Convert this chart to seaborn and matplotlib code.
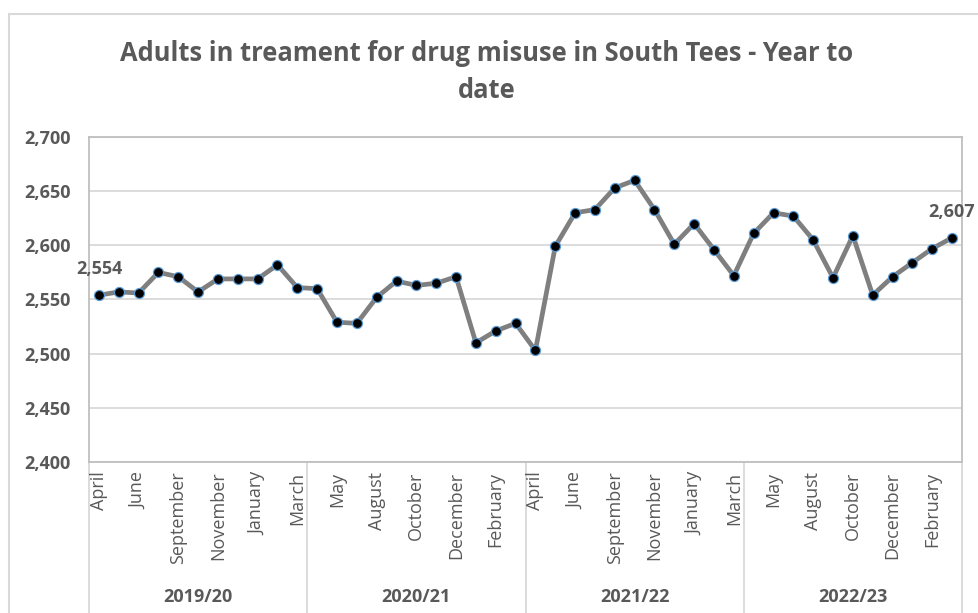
import pandas as pd
import seaborn as sns
import matplotlib.pyplot as plt
from matplotlib.patches import Rectangle

# Financial years and the months shown in each (July is not in the series)
years = ['2019/20', '2020/21', '2021/22', '2022/23']
months = ['April', 'May', 'June', 'August', 'September', 'October',
          'November', 'December', 'January', 'February', 'March']

adults_2019 = [2554, 2557, 2556, 2575, 2571, 2557, 2569, 2569, 2569, 2582, 2561]
adults_2020 = [2560, 2529, 2528, 2552, 2567, 2563, 2565, 2571, 2510, 2521, 2528]
adults_2021 = [2503, 2599, 2630, 2633, 2653, 2660, 2633, 2601, 2620, 2596, 2572]
adults_2022 = [2611, 2630, 2627, 2605, 2570, 2609, 2554, 2571, 2584, 2597, 2607]

yticks = [2400, 2450, 2500, 2550, 2600, 2650, 2700]

values = adults_2019 + adults_2020 + adults_2021 + adults_2022
df = pd.DataFrame({
    'year': [y for y in years for _ in months],
    'month': months * len(years),
    'adults': values,
})
df['pos'] = range(len(df))

sns.set_theme(style='white')
plt.rcParams['font.family'] = ['Open Sans', 'DejaVu Sans']
txt = '#595959'

W, H = 979, 613
fig = plt.figure(figsize=(W / 100, H / 100), dpi=100)
# outer chart border
fig.patches.append(Rectangle((9 / W, -0.1), 1.2, 1 - 14 / H + 0.1, transform=fig.transFigure,
                             fill=False, edgecolor='#d9d9d9', linewidth=1.5, zorder=0))

left, right, top, bottom = 89, 962, 137, 462
ax = fig.add_axes([left / W, 1 - bottom / H, (right - left) / W, (bottom - top) / H])

sns.lineplot(data=df, x='pos', y='adults', ax=ax, color='#7f7f7f', linewidth=3.4,
             marker='o', markersize=7.2, markerfacecolor='black',
             markeredgecolor='#5b9bd5', markeredgewidth=0.9, zorder=3)

ax.set_xlim(-0.5, len(df) - 0.5)
ax.set_ylim(yticks[0], yticks[-1])
ax.set_yticks(yticks)
ax.set_yticklabels([f'{v:,}' for v in yticks], fontsize=13, fontweight='bold', color=txt)
ax.tick_params(axis='y', length=0, pad=13)
ax.set_xticks([])
ax.set_xlabel('')
ax.set_ylabel('')
ax.grid(axis='y', color='#d9d9d9', linewidth=1.3)
for s in ax.spines.values():
    s.set_color('#bfbfbf')
    s.set_linewidth(1.3)

# data labels on first and last points
for i in [0, len(df) - 1]:
    ax.annotate(f"{df['adults'][i]:,}", (df['pos'][i], df['adults'][i]),
                xytext=(0, 12), textcoords='offset points', ha='center', va='bottom',
                fontsize=13, fontweight='bold', color=txt)

# multi-level category axis
xt = ax.get_xaxis_transform()
for i in range(0, len(df), 2):
    ax.text(df['pos'][i], -0.03, df['month'][i], transform=xt, rotation=90,
            ha='center', va='top', fontsize=13, color=txt)
n = len(months)
for k, yr in enumerate(years):
    ax.text(k * n + (n - 1) / 2, -0.415, yr, transform=xt, ha='center', va='center',
            fontsize=13, fontweight='bold', color=txt)
for k in range(len(years) + 1):
    ax.plot([k * n - 0.5] * 2, [0, -0.5], transform=xt, color='#d9d9d9',
            linewidth=1.3, clip_on=False)

fig.text(487 / W, 1 - 72 / H, 'Adults in treament for drug misuse in South Tees - Year to\ndate',
         ha='center', va='center', multialignment='center', fontsize=18.4,
         fontweight='bold', color=txt, linespacing=1.5)

fig.savefig('out.png', dpi=100)
